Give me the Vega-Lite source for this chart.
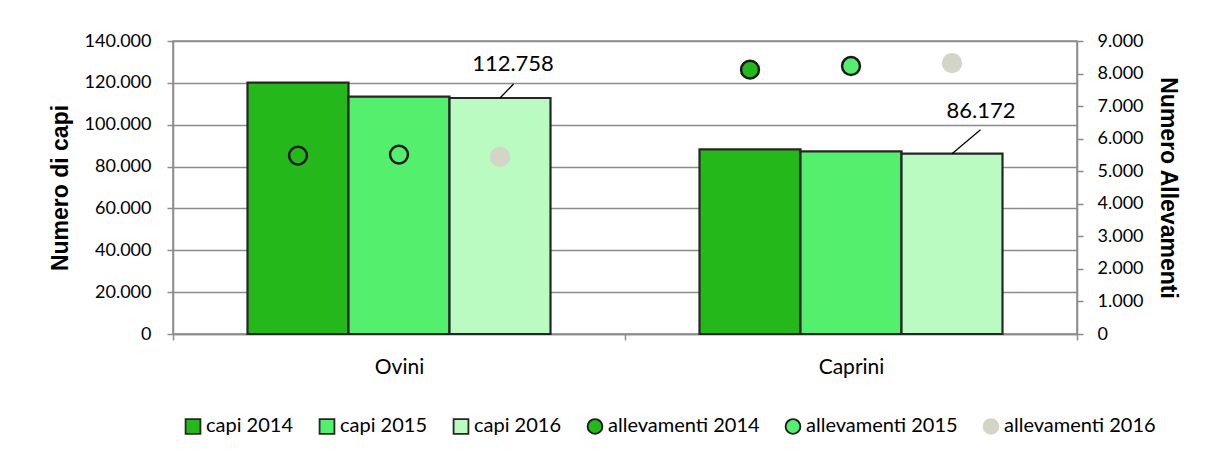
{
  "$schema": "https://vega.github.io/schema/vega-lite/v6.json",
  "width": 904,
  "height": 293,
  "autosize": {"type": "none"},
  "padding": {"left": 173, "top": 41, "right": 129, "bottom": 123},
  "background": "white",
  "datasets": {
    "capi": [
      {"specie": "Ovini", "anno": "2014", "serie": "capi 2014", "valore": 120100},
      {"specie": "Ovini", "anno": "2015", "serie": "capi 2015", "valore": 113400},
      {"specie": "Ovini", "anno": "2016", "serie": "capi 2016", "valore": 112758},
      {"specie": "Caprini", "anno": "2014", "serie": "capi 2014", "valore": 88230},
      {"specie": "Caprini", "anno": "2015", "serie": "capi 2015", "valore": 87270},
      {"specie": "Caprini", "anno": "2016", "serie": "capi 2016", "valore": 86172}
    ],
    "allevamenti": [
      {"specie": "Ovini", "anno": "2014", "serie": "allevamenti 2014", "valore": 5480},
      {"specie": "Ovini", "anno": "2015", "serie": "allevamenti 2015", "valore": 5510},
      {"specie": "Ovini", "anno": "2016", "serie": "allevamenti 2016", "valore": 5440},
      {"specie": "Caprini", "anno": "2014", "serie": "allevamenti 2014", "valore": 8120},
      {"specie": "Caprini", "anno": "2015", "serie": "allevamenti 2015", "valore": 8230},
      {"specie": "Caprini", "anno": "2016", "serie": "allevamenti 2016", "valore": 8320}
    ]
  },
  "config": {
    "locale": {"number": {"decimal": ",", "thousands": ".", "grouping": [3], "currency": ["€", ""]}},
    "font": "Lato",
    "view": {"stroke": "#8c8c8c", "strokeWidth": 1.5},
    "axis": {
      "labelFont": "Lato", "labelFontSize": 18, "labelColor": "#000000",
      "titleFont": "Liberation Sans", "titleFontSize": 23, "titleFontWeight": "bold", "titleColor": "#000000",
      "domainColor": "#8c8c8c", "domainWidth": 1.5, "tickColor": "#8c8c8c", "tickWidth": 1.5, "tickSize": 6,
      "gridColor": "#8c8c8c", "gridWidth": 1.5
    },
    "legend": {"labelFont": "Lato", "labelFontSize": 20, "labelColor": "#000000"}
  },
  "encoding": {
    "x": {
      "field": "specie", "type": "nominal", "sort": ["Ovini", "Caprini"],
      "scale": {"paddingInner": 0, "paddingOuter": 0},
      "axis": {"title": null, "labelAngle": 0, "labelFontSize": 21, "labelPadding": 16, "tickBand": "extent", "domain": true, "grid": false}
    },
    "xOffset": {"field": "anno", "type": "nominal", "sort": ["2014", "2015", "2016"], "scale": {"paddingInner": 0, "paddingOuter": 0.7376}}
  },
  "layer": [
    {
      "data": {"name": "capi"},
      "layer": [
        {
          "mark": {"type": "bar", "strokeWidth": 2.2},
          "encoding": {
            "y": {
              "field": "valore", "type": "quantitative",
              "scale": {"domain": [0, 140000]},
              "axis": {"title": "Numero di capi", "values": [0, 20000, 40000, 60000, 80000, 100000, 120000, 140000], "format": ",d", "labelPadding": 16, "titlePadding": 12, "grid": true}
            },
            "color": {
              "field": "serie", "type": "nominal",
              "scale": {
                "domain": ["capi 2014", "capi 2015", "capi 2016", "allevamenti 2014", "allevamenti 2015", "allevamenti 2016"],
                "range": ["#25b81a", "#53ef6d", "#bafbc2", "#25b81a", "#53ef6d", "#d3d6c6"]
              },
              "legend": {
                "title": null, "orient": "none", "direction": "horizontal", "columns": 6,
                "legendX": 10, "legendY": 375, "symbolSize": 220, "symbolStrokeWidth": 1.8, "columnPadding": 21, "labelOffset": 3
              }
            },
            "stroke": {
              "field": "serie", "type": "nominal",
              "scale": {
                "domain": ["capi 2014", "capi 2015", "capi 2016", "allevamenti 2014", "allevamenti 2015", "allevamenti 2016"],
                "range": ["#262626", "#262626", "#262626", "#1a1a1a", "#1a1a1a", "#d3d6c6"]
              }
            }
          }
        },
        {
          "transform": [{"filter": "datum.specie == 'Ovini' && datum.anno == '2016'"}],
          "mark": {"type": "rule", "color": "#000000", "strokeWidth": 1.3, "x2Offset": 114.5, "y2Offset": -14},
          "encoding": {
            "x2": {"field": "specie"},
            "y": {"field": "valore", "type": "quantitative"},
            "y2": {"field": "valore"}
          }
        },
        {
          "transform": [{"filter": "datum.specie == 'Caprini' && datum.anno == '2016'"}],
          "mark": {"type": "rule", "color": "#000000", "strokeWidth": 1.3, "x2Offset": 129.5, "y2Offset": -24},
          "encoding": {
            "x2": {"field": "specie"},
            "y": {"field": "valore", "type": "quantitative"},
            "y2": {"field": "valore"}
          }
        },
        {
          "transform": [{"filter": "datum.specie == 'Ovini' && datum.anno == '2016'"}],
          "mark": {"type": "text", "fontSize": 22, "font": "Lato", "color": "#000000", "dx": 13, "dy": -34},
          "encoding": {
            "y": {"field": "valore", "type": "quantitative"},
            "text": {"field": "valore", "type": "quantitative", "format": ",d"}
          }
        },
        {
          "transform": [{"filter": "datum.specie == 'Caprini' && datum.anno == '2016'"}],
          "mark": {"type": "text", "fontSize": 22, "font": "Lato", "color": "#000000", "dx": 29, "dy": -43},
          "encoding": {
            "y": {"field": "valore", "type": "quantitative"},
            "text": {"field": "valore", "type": "quantitative", "format": ",d"}
          }
        }
      ]
    },
    {
      "data": {"name": "allevamenti"},
      "mark": {"type": "point", "filled": true, "size": 320, "strokeWidth": 2.5, "opacity": 1},
      "encoding": {
        "y": {
          "field": "valore", "type": "quantitative",
          "scale": {"domain": [0, 9000]},
          "axis": {"orient": "right", "title": "Numero Allevamenti", "values": [0, 1000, 2000, 3000, 4000, 5000, 6000, 7000, 8000, 9000], "format": ",d", "labelPadding": 14, "titlePadding": 12, "grid": false}
        },
        "color": {"field": "serie", "type": "nominal"},
        "stroke": {"field": "serie", "type": "nominal"},
        "shape": {
          "field": "serie", "type": "nominal",
          "scale": {
            "domain": ["capi 2014", "capi 2015", "capi 2016", "allevamenti 2014", "allevamenti 2015", "allevamenti 2016"],
            "range": ["square", "square", "square", "circle", "circle", "circle"]
          }
        }
      }
    }
  ],
  "resolve": {"scale": {"y": "independent"}}
}
